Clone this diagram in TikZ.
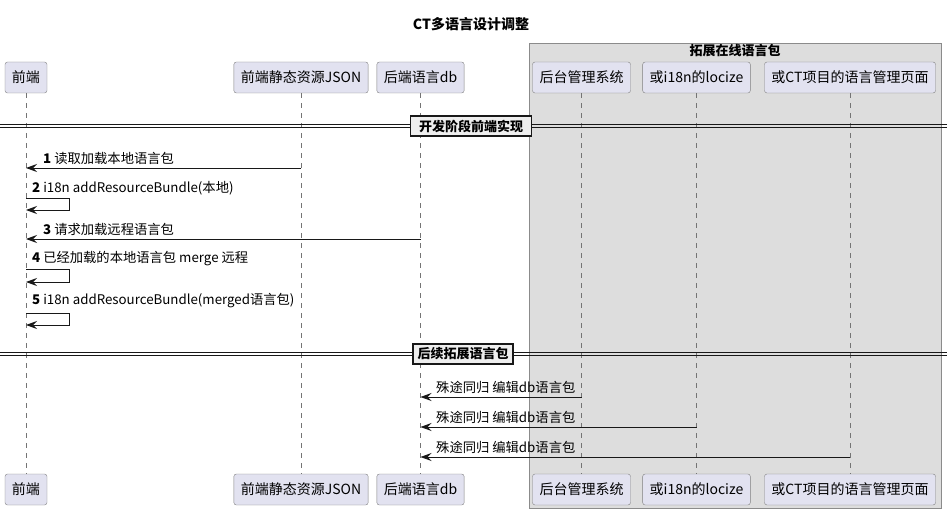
\documentclass[tikz,border=0pt]{standalone}
\usepackage{fontspec}
\setmainfont{Noto Sans CJK SC}
\usetikzlibrary{arrows.meta,positioning}
\definecolor{partfill}{HTML}{E2E2F0}
\definecolor{groupfill}{HTML}{DDDDDD}
\definecolor{divfill}{HTML}{EEEEEE}
\definecolor{ink}{HTML}{181818}

\begin{document}
\begin{tikzpicture}[x=1pt,y=-1pt,
  part/.style={draw=ink!55, fill=partfill, rounded corners=2.5pt, minimum height=31pt, inner xsep=7pt, font=\fontsize{14}{16}\selectfont},
  life/.style={ink!60, line width=0.6pt, dash pattern=on 5pt off 5pt},
  msg/.style={ink, line width=0.8pt, -{Stealth[length=11pt,width=8pt,inset=4pt]}},
  lbl/.style={anchor=south west, inner sep=1pt, font=\fontsize{13.3}{15}\selectfont},
  divbox/.style={draw=ink, line width=1.4pt, fill=divfill, minimum height=20pt, inner xsep=4pt, font=\bfseries\fontsize{13}{15}\selectfont}]
\useasboundingbox (0,0) rectangle (947,513);
\node[font=\bfseries\fontsize{14}{16}\selectfont] (title) at (471,24) {CT多语言设计调整};

% group box
\draw[draw=ink!50, fill=groupfill] (529,43) rectangle (941,508);
\node[font=\bfseries\fontsize{13}{15}\selectfont] (grp) at (735,51) {拓展在线语言包};

% participants, top and bottom
\node[part] (fe) at (26,77.5) {前端};
\node[part] (json) at (301,77.5) {前端静态资源JSON};
\node[part] (db) at (420.5,77.5) {后端语言db};
\node[part] (admin) at (581.5,77.5) {后台管理系统};
\node[part] (locize) at (696.5,77.5) {或i18n的locize};
\node[part] (ctpage) at (850,77.5) {或CT项目的语言管理页面};
\node[part] (feb) at (26,489.5) {前端};
\node[part] (jsonb) at (301,489.5) {前端静态资源JSON};
\node[part] (dbb) at (420.5,489.5) {后端语言db};
\node[part] (adminb) at (581.5,489.5) {后台管理系统};
\node[part] (locizeb) at (696.5,489.5) {或i18n的locize};
\node[part] (ctpageb) at (850,489.5) {或CT项目的语言管理页面};

\foreach \a/\b in {fe/feb, json/jsonb, db/dbb, admin/adminb, locize/locizeb, ctpage/ctpageb}
  \draw[life] (\a.south) -- (\b.north);

% dividers
\draw[ink, line width=0.8pt] (0,124.5) -- (947,124.5);
\draw[ink, line width=0.8pt] (0,127.8) -- (947,127.8);
\node[divbox, minimum width=121pt] (dev) at (471,126) {开发阶段前端实现};
\draw[ink, line width=0.8pt] (0,352) -- (947,352);
\draw[ink, line width=0.8pt] (0,355.3) -- (947,355.3);
\node[divbox, minimum width=100pt] (ext) at (463,354) {后续拓展语言包};

% message levels
\coordinate (m1) at (0,168);
\coordinate (m2) at (0,198);
\coordinate (m2b) at (0,210);
\coordinate (m3) at (0,239);
\coordinate (m4) at (0,269);
\coordinate (m4b) at (0,282);
\coordinate (m5) at (0,313);
\coordinate (m5b) at (0,325);
\coordinate (m6) at (0,397);
\coordinate (m7) at (0,427);
\coordinate (m8) at (0,457);

\draw[msg] (json.south |- m1) -- (fe.south |- m1);
\node[lbl] (l1) at (42,166) {\textbf{1} 读取加载本地语言包};
\draw[msg] (fe.south |- m2) -- ++(43,0) |- (fe.south |- m2b);
\node[lbl] (l2) at (31,196) {\textbf{2} i18n addResourceBundle(本地)};
\draw[msg] (db.south |- m3) -- (fe.south |- m3);
\node[lbl] (l3) at (42,237) {\textbf{3} 请求加载远程语言包};
\draw[msg] (fe.south |- m4) -- ++(43,0) |- (fe.south |- m4b);
\node[lbl] (l4) at (31,267) {\textbf{4} 已经加载的本地语言包 merge 远程};
\draw[msg] (fe.south |- m5) -- ++(43,0) |- (fe.south |- m5b);
\node[lbl] (l5) at (31,309) {\textbf{5} i18n addResourceBundle(merged语言包)};

\draw[msg] (admin.south |- m6) -- (db.south |- m6);
\node[lbl] (l6) at (435,395) {殊途同归 编辑db语言包};
\draw[msg] (locize.south |- m7) -- (db.south |- m7);
\node[lbl] (l7) at (435,425) {殊途同归 编辑db语言包};
\draw[msg] (ctpage.south |- m8) -- (db.south |- m8);
\node[lbl] (l8) at (435,455) {殊途同归 编辑db语言包};
\end{tikzpicture}
\end{document}
